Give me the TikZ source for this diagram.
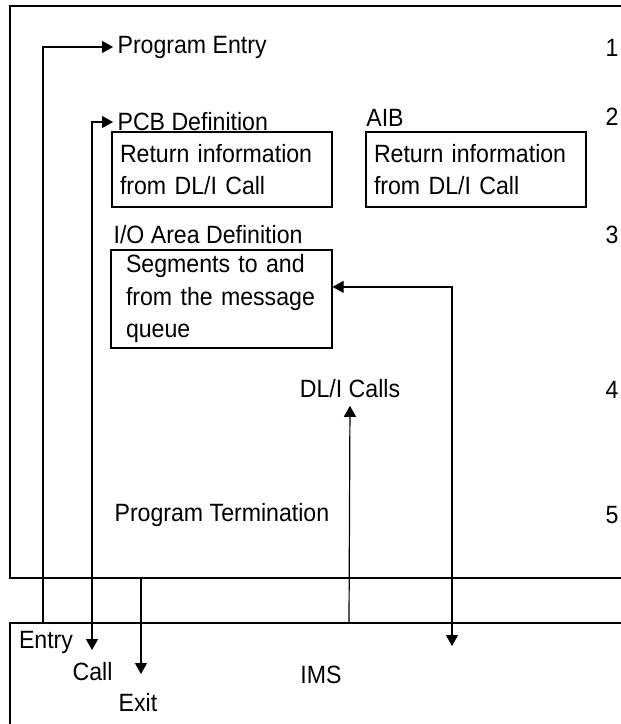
\documentclass[tikz,border=0pt]{standalone}
\usepackage{fontspec}
\setmainfont[FakeStretch=0.925]{Liberation Sans}
\usetikzlibrary{arrows.meta,calc}

\begin{document}
\begin{tikzpicture}[
  x=1pt, y=-1pt,
  line width=1.2pt,
  >={Triangle[length=11pt,width=12pt]},
  every node/.style={font=\fontsize{25}{32.5}\selectfont, inner sep=4pt},
  infobox/.style={draw, rectangle, align=left, minimum height=75pt, inner xsep=8pt, text width=204pt},
  numtag/.style={anchor=center}
]
  \useasboundingbox (0,0) rectangle (621,724);

  % program and IMS frames
  \draw (621,6) -- (10,6) -- (10,578) -- (621,578);
  \draw (621,623) -- (10,623) -- (10,724);

  % program parts
  \node[anchor=west] (pentry) at (113,47) {Program Entry};
  \node[anchor=west] (pcb) at (113,122) {PCB Definition};
  \node (aib) at (385,118) {AIB};
  \node[infobox] (pcbbox) at (222,169.5) {Return information\\from DL/I Call};
  \node[infobox] (aibbox) at (476,169.5) {Return information\\from DL/I Call};
  \node[anchor=west] (ioarea) at (109,235) {I/O Area Definition};
  \node[infobox, minimum height=98pt, inner xsep=15pt, text width=191pt] (iobox) at (221.5,299)
    {Segments to and\\from the message\\queue};
  \node (dli) at (350,389) {DL/I Calls};
  \node[anchor=west] (pterm) at (110,515) {Program Termination};

  % step numbers
  \node[numtag] (n1) at (612,48) {1};
  \node[numtag] (n2) at (612,117) {2};
  \node[numtag] (n3) at (612,235) {3};
  \node[numtag] (n4) at (612,390) {4};
  \node[numtag] (n5) at (612,515) {5};

  % IMS side
  \node (entrylbl) at (46,642) {Entry};
  \node (calllbl) at (92.5,672) {Call};
  \node (exitlbl) at (138,703) {Exit};
  \node (ims) at (321,675) {IMS};

  % line ends
  \coordinate (imsentry) at (43,623);
  \coordinate (callend) at (92,650);
  \coordinate (exitstart) at (141,578);
  \coordinate (exitend) at (141,674);
  \coordinate (imsdli) at (349,623);
  \coordinate (ioend) at (452,646);

  % connectors
  \draw[->] (imsentry) |- (pentry.west);
  \draw[<->] (pcb.west) -| (callend);
  \draw[->] (exitstart) -- (exitend);
  \draw[->, shorten >=3pt] (imsdli) -- (dli.south);
  \draw[<->] ($(iobox.north east)!0.378!(iobox.south east)$) -| (ioend);
\end{tikzpicture}
\end{document}
